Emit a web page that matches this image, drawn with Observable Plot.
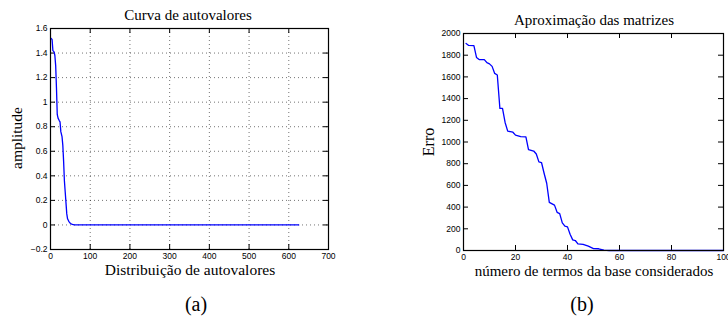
<!DOCTYPE html>
<html><head><meta charset="utf-8">
<script src="https://cdn.jsdelivr.net/npm/d3@7"></script>
<script src="https://cdn.jsdelivr.net/npm/@observablehq/plot@0.6"></script>
<style>
body{margin:0;background:#fff;}
#wrap{position:relative;width:728px;height:324px;overflow:hidden;background:#fff;}
.t{position:absolute;font-family:"Liberation Serif",serif;color:#000;white-space:nowrap;transform:translate(-50%,-50%);line-height:1;}
.p{position:absolute;top:0;}
</style></head><body><div id="wrap"></div>
<script>
// Panel (a): eigenvalue curve
const eigIndex = [1,4,6,9,11,13,15,17,19,22,24,26,29,31,33,35,37,39,41,43,46,50,55,60,625];
const eigAmplitude = [1.52,1.51,1.42,1.41,1.38,1.30,1.12,0.90,0.87,0.85,0.84,0.76,0.72,0.65,0.52,0.36,0.27,0.18,0.09,0.05,0.03,0.012,0.004,0.001,0];
const eigXTicks = [0,100,200,300,400,500,600,700];
const eigYTicks = [-0.2,0,0.2,0.4,0.6,0.8,1,1.2,1.4,1.6];

// Panel (b): matrix approximation error
const nTerms = [1,2,4,5,6,8,9,10,11,12,13,14,15,16,17,18,19,20,22,24,25,27,28,29,30,31,32,33,35,36,37,38,39,40,41,42,43,44,46,48,50,52,54,56,100];
const errValues = [1908,1890,1889,1779,1760,1760,1731,1720,1697,1632,1618,1309,1309,1180,1100,1095,1090,1063,1049,1048,930,917,889,817,811,712,620,444,418,352,340,255,225,218,150,98,92,61,56,40,18,16,3,0,0];
const errXTicks = [0,20,40,60,80,100];
const errYTicks = [0,200,400,600,800,1000,1200,1400,1600,1800,2000];

const wrap = document.getElementById("wrap");
const baseStyle = {fontFamily:"'Liberation Sans', Arial, sans-serif", fontSize:"8.5px", color:"#000", background:"transparent", overflow:"visible"};
const fmt = d => d < 0 ? "\u2212" + String(-d) : String(d);

function panel({xs, ys, xTicks, yTicks, xDomain, yDomain, grid, width, height, mL, mR, mT, mB, left}) {
  const data = xs.map((x,i)=>({x, y: ys[i]}));
  const fw = width - mL - mR, fh = height - mT - mB;
  const marks = [];
  if (grid) {
    marks.push(Plot.gridX(xTicks, {stroke:"#000", strokeOpacity:0.55, strokeDasharray:"1,3"}));
    marks.push(Plot.gridY(yTicks, {stroke:"#000", strokeOpacity:0.55, strokeDasharray:"1,3"}));
  }
  marks.push(
    Plot.tickY(yTicks, {y: d=>d, insetRight: fw-5, stroke:"#000"}),
    Plot.tickY(yTicks, {y: d=>d, insetLeft: fw-5, stroke:"#000"}),
    Plot.tickX(xTicks, {x: d=>d, insetTop: fh-5, stroke:"#000"}),
    Plot.tickX(xTicks, {x: d=>d, insetBottom: fh-5, stroke:"#000"}),
    Plot.line(data, {x:"x", y:"y", stroke:"#0000ff", strokeWidth:1.3}),
    Plot.axisX(xTicks, {tickSize:0, tickPadding:3, label:null, tickFormat: fmt}),
    Plot.axisY(yTicks, {tickSize:0, tickPadding:3, label:null, tickFormat: fmt}),
    Plot.frame({stroke:"#000", strokeWidth:1.2})
  );
  const svg = Plot.plot({
    width, height, marginLeft:mL, marginRight:mR, marginTop:mT, marginBottom:mB,
    x:{domain:xDomain}, y:{domain:yDomain},
    style: baseStyle,
    marks
  });
  svg.classList.add("p");
  svg.style.left = left + "px";
  wrap.appendChild(svg);
}

panel({xs:eigIndex, ys:eigAmplitude, xTicks:eigXTicks, yTicks:eigYTicks, xDomain:[0,700], yDomain:[-0.2,1.6], grid:true,
  width:340, height:262, mL:50, mR:12, mT:28, mB:13, left:0});
panel({xs:nTerms, ys:errValues, xTicks:errXTicks, yTicks:errYTicks, xDomain:[0,100], yDomain:[0,2000], grid:false,
  width:348, height:262, mL:83, mR:5, mT:33, mB:12, left:380});

function label(text, x, y, size, rot) {
  const d = document.createElement("div");
  d.className = "t";
  d.textContent = text;
  d.style.left = x + "px"; d.style.top = y + "px"; d.style.fontSize = size + "px";
  if (rot) d.style.transform = "translate(-50%,-50%) rotate(-90deg)";
  wrap.appendChild(d);
}
label("Curva de autovalores", 188, 15, 15);
label("Distribuição de autovalores", 190, 269.5, 15.5);
label("amplitude", 17, 138, 15.5, true);
label("Aproximação das matrizes", 594, 20, 15);
label("número de termos da base considerados", 594, 271, 15);
label("Erro", 429, 142, 16, true);
label("(a)", 196, 304, 20);
label("(b)", 582, 304, 20);
</script></body></html>
